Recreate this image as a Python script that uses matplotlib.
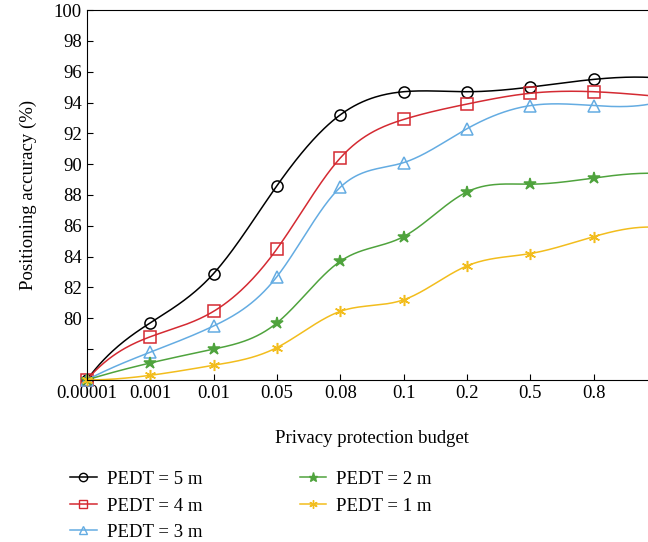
import matplotlib
matplotlib.use("Agg")
import matplotlib.pyplot as plt
import numpy as np

plt.rcParams['font.family'] = ['Liberation Serif', 'DejaVu Serif']

# privacy budget categories (last point has no tick, curve runs off the edge)
budgets = ['0.00001', '0.001', '0.01', '0.05', '0.08', '0.1', '0.2', '0.5', '0.8', '']

acc_5m = [76.0, 79.7, 82.9, 88.6, 93.2, 94.7, 94.7, 95.0, 95.5, 95.6]
acc_4m = [76.0, 78.8, 80.45, 84.5, 90.4, 92.9, 93.9, 94.6, 94.7, 94.4]
acc_3m = [76.0, 77.8, 79.5, 82.7, 88.5, 90.1, 92.3, 93.8, 93.8, 94.0]
acc_2m = [76.0, 77.1, 78.0, 79.7, 83.7, 85.3, 88.2, 88.7, 89.1, 89.4]
acc_1m = [76.0, 76.3, 76.95, 78.1, 80.45, 81.2, 83.4, 84.2, 85.3, 85.9]

labels = ['PEDT = 5 m', 'PEDT = 4 m', 'PEDT = 3 m', 'PEDT = 2 m', 'PEDT = 1 m']


def spline(x, y, xs):
    # not-a-knot cubic spline (like matlab's spline), no scipy needed
    n = len(x)
    h = np.diff(x)
    A = np.zeros((n, n))
    b = np.zeros(n)
    A[0, 0], A[0, 1], A[0, 2] = h[1], -(h[0] + h[1]), h[0]
    A[-1, -3], A[-1, -2], A[-1, -1] = h[-1], -(h[-2] + h[-1]), h[-2]
    for i in range(1, n - 1):
        A[i, i - 1] = h[i - 1]
        A[i, i] = 2 * (h[i - 1] + h[i])
        A[i, i + 1] = h[i]
        b[i] = 3 * ((y[i + 1] - y[i]) / h[i] - (y[i] - y[i - 1]) / h[i - 1])
    c = np.linalg.solve(A, b)
    out = np.empty_like(xs)
    for k, xv in enumerate(xs):
        i = min(np.searchsorted(x, xv, side='right') - 1, n - 2)
        i = max(i, 0)
        dx = xv - x[i]
        bi = (y[i + 1] - y[i]) / h[i] - h[i] * (2 * c[i] + c[i + 1]) / 3
        di = (c[i + 1] - c[i]) / (3 * h[i])
        out[k] = y[i] + bi * dx + c[i] * dx ** 2 + di * dx ** 3
    return out


fig = plt.figure(figsize=(6.48, 5.42), dpi=100)
ax = fig.add_axes([0.134, 0.299, 0.880, 0.6825])

x = np.arange(len(budgets), dtype=float)
xs = np.linspace(0, x[-1], 400)

styles = [
    (acc_5m, 'black', 'o', 'none', 8),
    (acc_4m, '#d42a32', 's', 'none', 8),
    (acc_3m, '#64ace2', '^', 'none', 8),
    (acc_2m, '#4fa33d', '*', None, 9),
    (acc_1m, '#f2bd1d', (6, 2, 0), None, 8),
]

for (vals, col, mk, fc, ms), lab in zip(styles, labels):
    y = np.array(vals)
    ax.plot(xs, spline(x, y, xs), color=col, lw=1.1)
    kw = dict(markerfacecolor=fc) if fc else dict(markerfacecolor=col)
    ax.plot(x[:-1], y[:-1], ls='none', marker=mk, color=col, ms=ms,
            markeredgewidth=1.1, clip_on=False, **kw)
    ax.plot([], [], color=col, lw=1.1, marker=mk, ms=ms * 0.75,
            markeredgewidth=1.0, label=lab, **kw)

ax.set_xlim(0, 9)
ax.set_ylim(76, 100)
ax.set_xticks(x[:-1])
ax.set_xticklabels(budgets[:-1])
yt = np.arange(76, 101, 2)
ax.set_yticks(yt)
ax.set_yticklabels(['' if v < 80 else str(v) for v in yt])
ax.tick_params(direction='in', labelsize=13.5, length=4)
ax.spines['right'].set_visible(False)

ax.set_xlabel('Privacy protection budget', fontsize=13.5, labelpad=20)
ax.set_ylabel('Positioning accuracy (%)', fontsize=13.5, labelpad=12)

handles, labs = ax.get_legend_handles_labels()
leg = fig.legend(handles, labs,
                 loc='upper left', bbox_to_anchor=(0.097, 0.145), ncol=2,
                 frameon=False, fontsize=13.5, handlelength=1.4,
                 handletextpad=0.55, columnspacing=5.2, labelspacing=0.5,
                 borderaxespad=0)

fig.savefig('out.png', dpi=100)
